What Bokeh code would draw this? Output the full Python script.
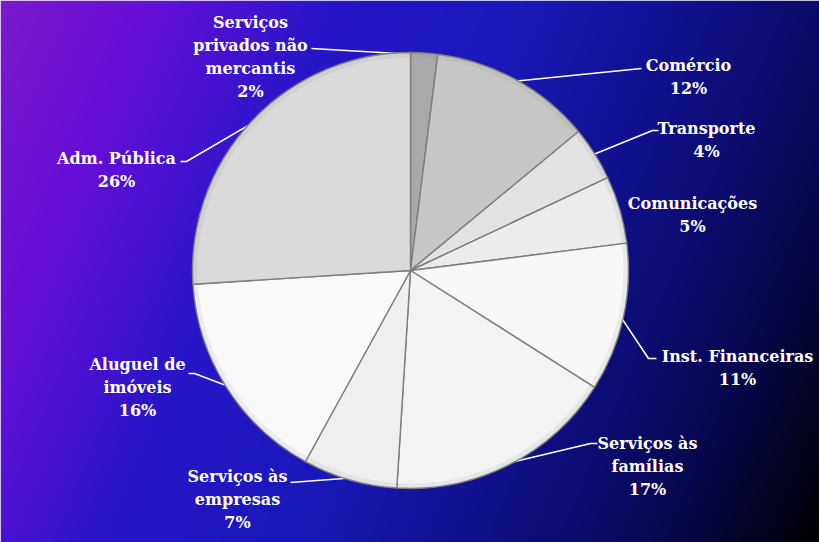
import numpy as np
from bokeh.plotting import figure
from bokeh.models import Range1d, ColumnDataSource
from bokeh.embed import file_html
from bokeh.resources import INLINE
from bokeh.core.properties import value

# ---- data ----
categories = ["Serviços\nprivados não\nmercantis", "Comércio", "Transporte", "Comunicações",
              "Inst. Financeiras", "Serviços às\nfamílias", "Serviços às\nempresas",
              "Aluguel de\nimóveis", "Adm. Pública"]
shares = [2, 12, 4, 5, 11, 17, 7, 16, 26]

# ---- styles / layout ----
slice_colors = ["#a9a9a9", "#c6c6c6", "#e2e2e2", "#ececec", "#f7f7f7",
                "#f3f3f3", "#efefef", "#f9f9f9", "#dadada"]
W, H = 819, 542
CX, CY, R = 410, H - 270, 218
LINE_H = 23
# label block centres (pixel coords, y down)
label_pos = [(250, 56), (688, 76), (706, 139), (692, 214), (737, 367),
             (647, 466), (237, 499), (137, 387), (116, 169)]
# leader elbows and ends (pixel coords) ; None = no leader
leader_ends = [((311, 48), (311, 48)), ((641, 68), (641, 68)), ((652, 130), (658, 130)), None,
               ((648, 358), (656, 358)), ((590, 443), (597, 443)), ((290, 482), (290, 482)),
               ((194, 373), (188, 373)), ((186, 161), (180, 161))]

p = figure(width=W, height=H, x_range=Range1d(0, W), y_range=Range1d(0, H),
           output_backend="svg", toolbar_location=None, min_border=0,
           x_axis_type=None, y_axis_type=None)
p.grid.visible = False
p.outline_line_color = None

# ---- background gradient ----
xs = np.arange(W) / W
ys_pix = (H - 1 - np.arange(H)) / H  # row 0 = bottom
U, V = np.meshgrid(xs, ys_pix)
T = 0.78 * U + 0.22 * V
stops_t = [0.0, 0.15, 0.32, 0.5, 0.7, 0.85, 1.0]
stops_c = [(125, 25, 205), (100, 15, 215), (40, 22, 200), (25, 25, 185),
           (15, 15, 130), (8, 8, 80), (0, 0, 0)]
img = np.zeros((H, W), dtype=np.uint32)
view = img.view(dtype=np.uint8).reshape((H, W, 4))
for k in range(3):
    view[:, :, k] = np.interp(T, stops_t, [c[k] for c in stops_c]).astype(np.uint8)
view[:, :, 3] = 255
p.image_rgba(image=[img], x=0, y=0, dw=W, dh=H)

# ---- pie ----
tot = float(sum(shares))
cum = np.cumsum([0] + shares) / tot
start = [np.pi / 2 - 2 * np.pi * cum[i + 1] for i in range(len(shares))]
end = [np.pi / 2 - 2 * np.pi * cum[i] for i in range(len(shares))]
mid = [np.pi / 2 - 2 * np.pi * (cum[i] + cum[i + 1]) / 2 for i in range(len(shares))]

# leader lines
for i, le in enumerate(leader_ends):
    if le is None:
        continue
    px = CX + (R - 2) * np.cos(mid[i])
    py = CY + (R - 2) * np.sin(mid[i])
    (ex, ey), (fx, fy) = le
    p.line([px, ex, fx], [py, H - ey, H - fy], line_color="white", line_width=1.6)

src = ColumnDataSource(dict(start=start, end=end, color=slice_colors))
p.wedge(x=CX, y=CY, radius=R, start_angle="start", end_angle="end", source=src,
        fill_color="color", line_color="#7d7d7d", line_width=1.4)
# rim shading
p.annular_wedge(x=CX, y=CY, inner_radius=R - 5, outer_radius=R, start_angle=0, end_angle=2 * np.pi,
                fill_color="#8a8a8a", fill_alpha=0.12, line_color=None)

# ---- labels (one text item per line) ----
lx, ly, lt = [], [], []
for (cx, cy), c, s in zip(label_pos, categories, shares):
    lines = c.split("\n") + [f"{s}%"]
    n = len(lines)
    for j, t in enumerate(lines):
        lx.append(cx)
        ly.append(H - (cy + (j - (n - 1) / 2) * LINE_H))
        lt.append(t)
p.text(x=lx, y=ly, text=lt,
       text_align="center", text_baseline="middle", text_color="white",
       text_font=value("DejaVu Serif"), text_font_style="bold",
       text_font_size="16px")

open("out.html", "w").write(file_html(p, INLINE))
